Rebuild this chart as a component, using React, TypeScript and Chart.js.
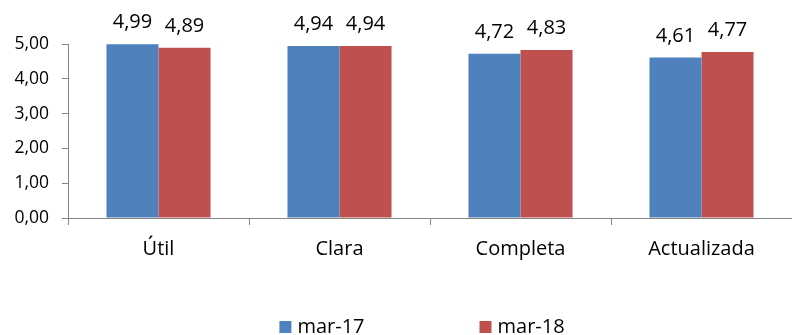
import React, { useEffect, useRef } from "react";
import { Chart, registerables } from "chart.js";

Chart.register(...registerables);

const categories = ["Útil", "Clara", "Completa", "Actualizada"];
const seriesNames = ["mar-17", "mar-18"];
const mar17 = [4.99, 4.94, 4.72, 4.61];
const mar18 = [4.89, 4.94, 4.83, 4.77];
const yTicks = [0, 1, 2, 3, 4, 5];
const colors = ["#4F81BD", "#C0504D"];

const FONT = "'Open Sans', 'Noto Sans', sans-serif";
const fmt = (v: number) => v.toFixed(2).replace(".", ",");

const dataLabelPlugin = {
  id: "dataLabels",
  afterDatasetsDraw(chart: any) {
    const ctx = chart.ctx;
    ctx.save();
    ctx.font = `20px ${FONT}`;
    ctx.fillStyle = "#000";
    ctx.textAlign = "center";
    ctx.textBaseline = "alphabetic";
    chart.data.datasets.forEach((ds: any, i: number) => {
      const meta = chart.getDatasetMeta(i);
      meta.data.forEach((el: any, j: number) => {
        ctx.fillText(fmt(ds.data[j]), el.x, el.y - 16);
      });
    });
    ctx.restore();
  },
};

const legendPlugin = {
  id: "customLegend",
  afterDraw(chart: any) {
    const ctx = chart.ctx;
    ctx.save();
    ctx.font = `20px ${FONT}`;
    ctx.textBaseline = "middle";
    ctx.textAlign = "left";
    const box = 12;
    const gapText = 6;
    const gapItems = 115;
    const items = chart.data.datasets.map((ds: any) => ({
      label: ds.label,
      color: ds.backgroundColor,
      w: box + gapText + ctx.measureText(ds.label).width,
    }));
    const total = items.reduce((s: number, it: any) => s + it.w, 0) + gapItems * (items.length - 1);
    const center = 422;
    let x = center - total / 2;
    const yMid = 327;
    items.forEach((it: any) => {
      ctx.fillStyle = it.color;
      ctx.fillRect(x, yMid - box / 2, box, box);
      ctx.fillStyle = "#000";
      ctx.fillText(it.label, x + box + gapText, yMid);
      x += it.w + gapItems;
    });
    ctx.restore();
  },
};

export default function App() {
  const ref = useRef<HTMLCanvasElement>(null);
  useEffect(() => {
    if (!ref.current) return;
    const chart = new Chart(ref.current, {
      type: "bar",
      data: {
        labels: categories,
        datasets: [
          { label: seriesNames[0], data: mar17, backgroundColor: colors[0] },
          { label: seriesNames[1], data: mar18, backgroundColor: colors[1] },
        ],
      },
      options: {
        animation: false,
        responsive: false,
        maintainAspectRatio: false,
        layout: { padding: { top: 44, right: 0, left: 0, bottom: 0 } },
        datasets: {
          bar: { categoryPercentage: 0.575, barPercentage: 1 },
        },
        plugins: {
          legend: { display: false },
          tooltip: { enabled: false },
        },
        scales: {
          x: {
            offset: true,
            grid: {
              offset: true,
              drawOnChartArea: false,
              drawTicks: true,
              tickLength: 7,
              color: "#868686",
            },
            border: { display: true, color: "#868686", width: 1 },
            ticks: {
              color: "#000",
              font: { family: FONT, size: 20 },
              padding: 12,
            },
            afterFit: (s: any) => {
              s.height = 117;
            },
          },
          y: {
            min: 0,
            max: 5,
            afterBuildTicks: (s: any) => {
              s.ticks = yTicks.map((v) => ({ value: v }));
            },
            grid: {
              drawOnChartArea: false,
              drawTicks: true,
              tickLength: 6,
              color: "#868686",
            },
            border: { display: true, color: "#868686", width: 1 },
            ticks: {
              color: "#000",
              font: { family: FONT, size: 17.5 },
              padding: 13,
              callback: (v: any) => fmt(Number(v)),
            },
            afterFit: (s: any) => {
              s.width = 68;
            },
          },
        },
      },
      plugins: [dataLabelPlugin, legendPlugin],
    });
    return () => chart.destroy();
  }, []);
  return (
    <div style={{ position: "fixed", left: 0, top: 0, width: 792, height: 335, background: "#fff" }}>
      <canvas ref={ref} width={792} height={335} style={{ width: 792, height: 335 }} />
    </div>
  );
}
